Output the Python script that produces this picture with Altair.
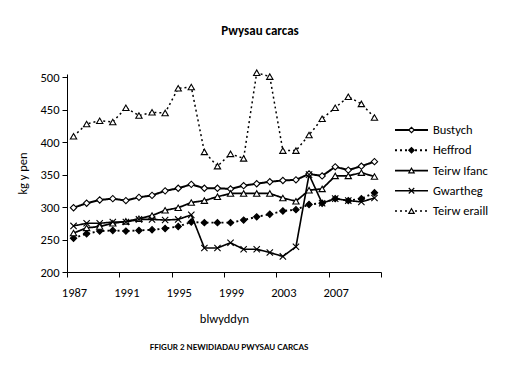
import altair as alt
import pandas as pd

years = list(range(1987, 2011))
series = ["Bustych", "Heffrod", "Teirw Ifanc", "Gwartheg", "Teirw eraill"]
bustych = [299, 306, 311, 313, 310, 315, 318, 325, 329, 335, 329, 329, 328, 333, 336, 339, 341, 342, 351, 348, 362, 357, 363, 370]
heffrod = [252, 259, 263, 264, 263, 264, 265, 267, 270, 277, 276, 276, 276, 280, 285, 289, 294, 296, 304, 306, 313, 310, 313, 322]
teirw_ifanc = [260, 268, 270, 275, 278, 282, 287, 295, 299, 307, 310, 316, 321, 321, 321, 321, 314, 309, 326, 328, 348, 348, 353, 347]
gwartheg = [271, 275, 275, 277, 277, 281, 281, 280, 281, 288, 237, 237, 245, 235, 235, 230, 224, 239, 350, 306, 313, 310, 308, 314]
teirw_eraill = [409, 428, 433, 431, 453, 441, 446, 445, 483, 485, 385, 363, 382, 375, 507, 501, 387, 387, 411, 436, 453, 470, 459, 438]
y_ticks = [200, 250, 300, 350, 400, 450, 500]
x_label_years = [1987, 1991, 1995, 1999, 2003, 2007]
title_text = "Pwysau carcas"
caption_text = "FFIGUR 2 NEWIDIADAU PWYSAU CARCAS"

values = [bustych, heffrod, teirw_ifanc, gwartheg, teirw_eraill]
rows = []
for s, vals in zip(series, values):
    for yr, v in zip(years, vals):
        rows.append({"year": yr, "series": s, "value": v})
df = pd.DataFrame(rows)
leg_df = pd.DataFrame({"series": series})

FONT = "Carlito, Lato, sans-serif"

dash_scale = alt.Scale(domain=series, range=[[1, 0], [2, 3], [1, 0], [1, 0], [2, 3]])
width_scale = alt.Scale(domain=series, range=[2, 1.5, 1, 1, 1.3])
shape_scale = alt.Scale(domain=series, range=["diamond", "diamond", "triangle-up",
                                              "M-1,-1L1,1M-1,1L1,-1", "triangle-up"])
fill_scale = alt.Scale(domain=series, range=["white", "black", "white", "white", "white"])

tick_vals = [y - 0.5 for y in x_label_years] + [2010.5]
x_enc = alt.X(
    "year:Q",
    scale=alt.Scale(domain=[1986.5, 2010.5], nice=False, zero=False),
    axis=alt.Axis(values=tick_vals,
                  labelExpr="datum.value < 2010 ? format(datum.value + 0.5, 'd') : ''",
                  labelOffset=7, labelFlush=False, title="blwyddyn", grid=False, tickSize=5,
                  labelPadding=9, titlePadding=14),
)
y_enc = alt.Y(
    "value:Q",
    scale=alt.Scale(domain=[200, 505], nice=False, zero=False),
    axis=alt.Axis(values=y_ticks, title="kg y pen", grid=False, tickSize=5,
                  labelPadding=3, titlePadding=10),
)

lines = alt.Chart(df).mark_line(color="black").encode(
    x=x_enc, y=y_enc,
    strokeDash=alt.StrokeDash("series:N", scale=dash_scale, legend=None),
    strokeWidth=alt.StrokeWidth("series:N", scale=width_scale, legend=None),
    detail="series:N",
)
points = alt.Chart(df).mark_point(filled=True, stroke="black", strokeWidth=1.1,
                                  size=40, opacity=1).encode(
    x=x_enc, y=y_enc,
    shape=alt.Shape("series:N", scale=shape_scale, legend=None),
    fill=alt.Fill("series:N", scale=fill_scale, legend=None),
)
main = alt.layer(lines, points)

ly = alt.Y("series:N", scale=alt.Scale(type="point", domain=series, range=[56, 137], padding=0),
           axis=None)
leg_rule = alt.Chart(leg_df).mark_rule(color="black").encode(
    x=alt.value(328), x2=alt.value(361), y=ly,
    strokeDash=alt.StrokeDash("series:N", scale=dash_scale, legend=None),
    strokeWidth=alt.StrokeWidth("series:N", scale=width_scale, legend=None),
)
leg_pt = alt.Chart(leg_df).mark_point(filled=True, stroke="black", strokeWidth=1.1,
                                      size=30, opacity=1).encode(
    x=alt.value(344.5), y=ly,
    shape=alt.Shape("series:N", scale=shape_scale, legend=None),
    fill=alt.Fill("series:N", scale=fill_scale, legend=None),
)
leg_txt = alt.Chart(leg_df).mark_text(align="left", baseline="middle", font=FONT,
                                      fontSize=12.5, color="black").encode(
    x=alt.value(366), y=ly, text="series:N",
)
legend = alt.layer(leg_rule, leg_pt, leg_txt)

title_mark = alt.Chart(pd.DataFrame({"t": [title_text]})).mark_text(
    font=FONT, fontSize=13, fontWeight="bold", color="black", baseline="middle"
).encode(x=alt.value(193), y=alt.value(-43), text="t:N")
caption_mark = alt.Chart(pd.DataFrame({"t": [caption_text]})).mark_text(
    font="'Liberation Sans Narrow', Lato, sans-serif", fontSize=8, fontWeight="bold",
    color="black", baseline="middle"
).encode(x=alt.value(162), y=alt.value(274), text="t:N")

chart = alt.layer(main, legend, title_mark, caption_mark).resolve_scale(
    y="independent"
).properties(
    width=314, height=198,
    autosize=alt.AutoSizeParams(type="none"),
    padding={"left": 59, "top": 66, "right": 125, "bottom": 95},
).configure_view(stroke=None).configure_axis(
    domainColor="black", tickColor="black", labelColor="black", titleColor="black",
    labelFont=FONT, titleFont=FONT, labelFontSize=12.5, titleFontSize=12.5,
    titleFontWeight="normal",
)

chart.save("out.html", embed_options={"renderer": "svg", "actions": False})
